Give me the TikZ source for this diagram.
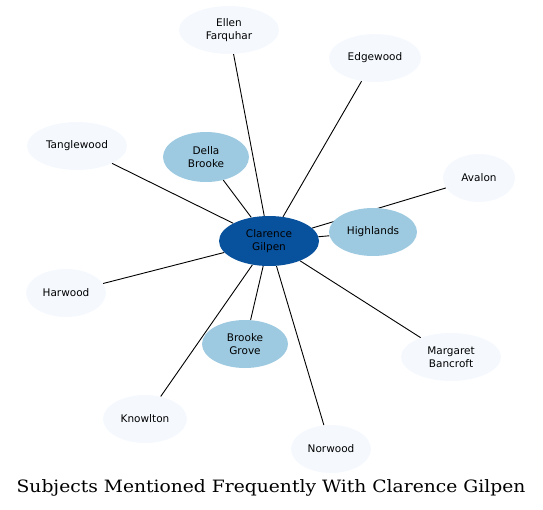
\documentclass[tikz,border=0pt]{standalone}
\usepackage{fontspec}
\newfontfamily\nodefont{DejaVu Sans}
\newfontfamily\titlefont[FakeStretch=1.1]{DejaVu Serif}
\usetikzlibrary{shapes.geometric, backgrounds}

\definecolor{darkblue}{HTML}{08519C}
\definecolor{midblue}{HTML}{9ECAE1}
\definecolor{paleblue}{HTML}{F5F9FE}

\begin{document}
\begin{tikzpicture}[
    x=1pt, y=-1pt,
    subject/.style={ellipse, inner sep=0pt, minimum height=48pt, align=center,
        font=\nodefont\fontsize{10.5}{13}\selectfont},
    main/.style={subject, fill=darkblue, minimum width=100pt, minimum height=50pt},
    close/.style={subject, fill=midblue},
    far/.style={subject, fill=paleblue},
    link/.style={line width=0.9pt, black}
]

% Frame
\useasboundingbox (0,0) rectangle (543,509);

% Centre person
\node[main] (clarence) at (269,241) {Clarence\\Gilpen};

% Closely related subjects
\node[close, minimum width=88pt] (highlands) at (373,232) {Highlands};
\node[close, minimum width=86pt, minimum height=50pt] (della_brooke) at (206,157) {Della\\Brooke};
\node[close, minimum width=86pt] (brooke_grove) at (245,344) {Brooke\\Grove};

% Other subjects
\node[far, minimum width=100pt] (ellen) at (229,30) {Ellen\\Farquhar};
\node[far, minimum width=92pt] (edgewood) at (375,58) {Edgewood};
\node[far, minimum width=100pt] (tanglewood) at (77,146) {Tanglewood};
\node[far, minimum width=72pt] (avalon) at (479,178) {Avalon};
\node[far, minimum width=80pt] (harwood) at (66,293) {Harwood};
\node[far, minimum width=100pt] (margaret) at (451,357) {Margaret\\Bancroft};
\node[far, minimum width=84pt] (knowlton) at (145,419) {Knowlton};
\node[far, minimum width=80pt] (norwood) at (331,449) {Norwood};

% Links, drawn under the nodes
\begin{pgfonlayer}{background}
\foreach \other in {highlands, della_brooke, brooke_grove, ellen, edgewood,
    tanglewood, avalon, harwood, margaret, knowlton, norwood}
    \draw[link] (clarence) -- (\other);
\end{pgfonlayer}

% Title
\node[font=\titlefont\fontsize{17}{20}\selectfont] (title) at (271,488) {Subjects Mentioned Frequently With Clarence Gilpen};

\end{tikzpicture}
\end{document}
